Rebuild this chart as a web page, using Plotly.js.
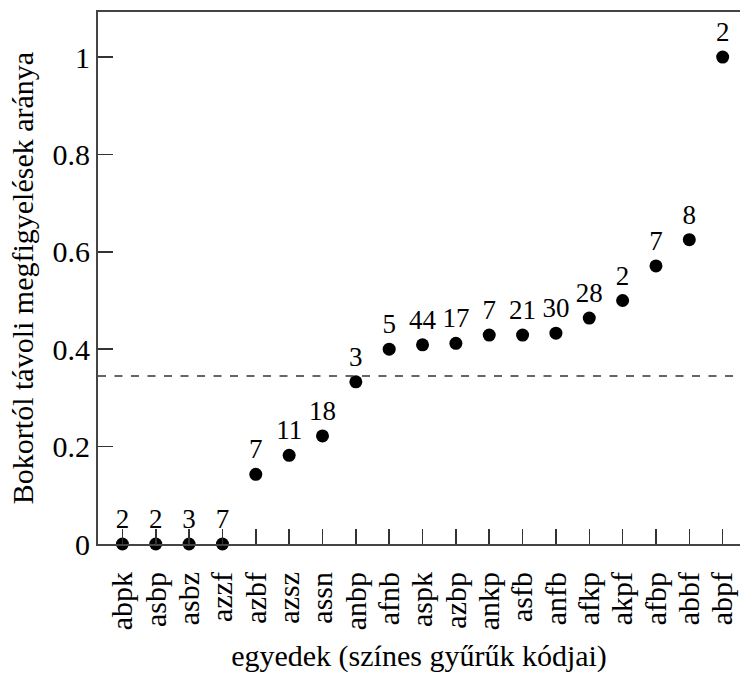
<!DOCTYPE html>
<html>
<head>
<meta charset="utf-8">
<script src="https://cdn.plot.ly/plotly-3.0.1.min.js"></script>
<style>html,body{margin:0;padding:0;background:#fff;}</style>
</head>
<body>
<div id="chart" style="width:740px;height:675px;"></div>
<script>
const categories = ["abpk","asbp","asbz","azzf","azbf","azsz","assn","anbp","afnb","aspk","azbp","ankp","asfb","anfb","afkp","akpf","afbp","abbf","abpf"];
const proportions = [0, 0, 0, 0, 0.143, 0.182, 0.222, 0.333, 0.400, 0.409, 0.412, 0.429, 0.429, 0.433, 0.464, 0.500, 0.571, 0.625, 1.0];
const counts = [2, 2, 3, 7, 7, 11, 18, 3, 5, 44, 17, 7, 21, 30, 28, 2, 7, 8, 2];
const referenceLevel = 0.345;

const FONT = "Liberation Serif";

const trace = {
  type: "scatter",
  mode: "markers+text",
  x: categories,
  y: proportions,
  text: counts.map(String),
  textposition: "top center",
  textfont: {family: FONT, size: 27, color: "#000"},
  marker: {size: 13, color: "#000"},
  cliponaxis: false,
  hoverinfo: "none"
};

const layout = {
  width: 740,
  height: 675,
  margin: {l: 98, r: 0, t: 12, b: 131},
  paper_bgcolor: "#fff",
  plot_bgcolor: "#fff",
  showlegend: false,
  font: {family: FONT, color: "#000"},
  xaxis: {
    type: "category",
    range: [-0.732, 18.52],
    tickmode: "array",
    tickvals: categories,
    ticktext: categories,
    showgrid: false,
    zeroline: false,
    showline: true,
    mirror: true,
    linecolor: "#444",
    linewidth: 2,
    ticks: "inside",
    ticklen: 15,
    tickwidth: 1.5,
    tickcolor: "#333",
    tickangle: -90,
    ticklabelstandoff: 14,
    tickfont: {family: FONT, size: 30, color: "#000"},
    title: {text: "egyedek (színes gyűrűk kódjai)", font: {family: FONT, size: 30, color: "#000"}, standoff: 16}
  },
  yaxis: {
    range: [0, 1.0925],
    tickvals: [0, 0.2, 0.4, 0.6, 0.8, 1],
    ticktext: ["0", "0.2", "0.4", "0.6", "0.8", "1"],
    showgrid: false,
    zeroline: false,
    showline: true,
    linecolor: "#444",
    linewidth: 2,
    ticks: "inside",
    ticklen: 15,
    tickwidth: 1.5,
    tickcolor: "#333",
    tickfont: {family: FONT, size: 30, color: "#000"},
    title: {text: "Bokortól távoli megfigyelések aránya", font: {family: FONT, size: 30, color: "#000"}, standoff: 10}
  },
  shapes: [{
    type: "line",
    xref: "paper", x0: 0, x1: 1,
    yref: "y", y0: referenceLevel, y1: referenceLevel,
    line: {color: "#333", width: 1.5, dash: "8px,8.5px"}
  }]
};

Plotly.newPlot("chart", [trace], layout, {displayModeBar: false, staticPlot: true});
</script>
</body>
</html>
